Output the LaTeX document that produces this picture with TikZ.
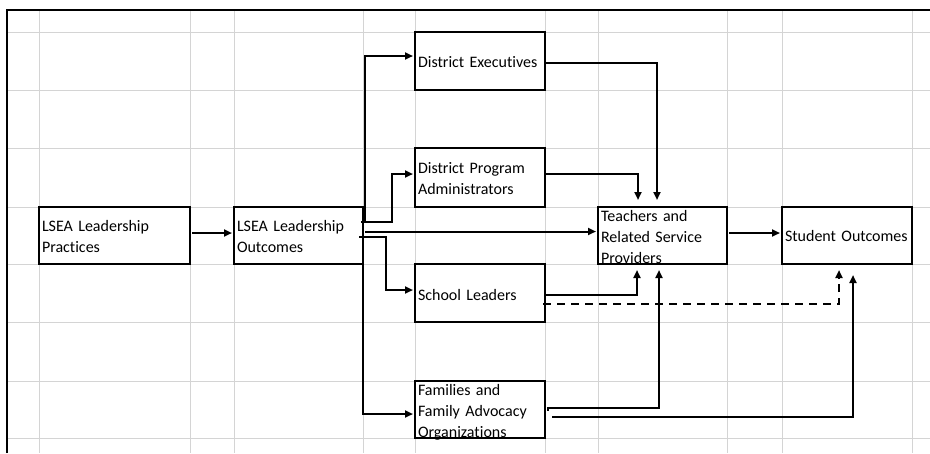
\documentclass[tikz,border=0pt]{standalone}
\usepackage{fontspec}
\setmainfont{Carlito}[Ligatures={NoCommon}]
\usetikzlibrary{arrows.meta,calc}
\definecolor{cellline}{RGB}{212,212,212}
\begin{document}
\begin{tikzpicture}[x=1pt,y=-1pt,
  gridline/.style={draw=cellline, line width=1pt},
  frameline/.style={draw=black, line width=1.2pt},
  % #1 width, #2 height, #3 text width, #4 first baseline below top, #5 rest
  box/.style n args={5}{draw=black, line width=1.4pt, fill=white, rectangle,
    outer sep=0pt, inner xsep=3pt, inner ysep=0pt, anchor=north west,
    minimum width=#1, minimum height=#2, text width=#3, align=left,
    text height=#4, text depth=#5,
    font=\fontsize{16pt}{21pt}\selectfont},
  arr/.style={line width=2pt, line join=miter, -{Triangle[length=8pt,width=7pt]}},
  dasharr/.style={arr, dash pattern=on 8pt off 6pt}]

% canvas and spreadsheet cells
\fill[white] (0,0) rectangle (930,453);
\useasboundingbox (0,0) rectangle (930,453);
\foreach \x in {39,190,234,363,415,545,598,727,782,912}
  \draw[gridline] (\x,10) -- (\x,453);
\foreach \y in {32,90,148,207,264,322,381,438}
  \draw[gridline] (7,\y) -- (930,\y);
\draw[frameline] (7,453) -- (7,10) -- (930,10);

% boxes
\node[box={151pt}{57pt}{145pt}{24pt}{33pt}] (lp)  at (39,207)  {LSEA Leadership\\Practices};
\node[box={129pt}{57pt}{123pt}{24pt}{33pt}] (lo)  at (234,207) {LSEA Leadership\\Outcomes};
\node[box={130pt}{58pt}{124pt}{35pt}{23pt}] (dex) at (415,32)  {District Executives};
\node[box={130pt}{59pt}{124pt}{25pt}{34pt}] (dpa) at (415,148) {District Program\\Administrators};
\node[box={129pt}{57pt}{123pt}{14pt}{43pt}] (trs) at (598,207) {Teachers and\\Related Service\\Providers};
\node[box={130pt}{57pt}{124pt}{34pt}{23pt}] (so)  at (782,207) {Student Outcomes};
\node[box={130pt}{58pt}{124pt}{36pt}{22pt}] (sl)  at (415,264) {School Leaders};
\node[box={130pt}{57pt}{124pt}{14pt}{43pt}] (fam) at (415,381) {Families and\\Family Advocacy\\Organizations};

% connectors
\draw[arr] ([xshift=2pt,yshift=2.5pt]lp.east) -- ([xshift=-2pt,yshift=2.5pt]lo.west);
\draw[arr] ([xshift=2pt,yshift=13.5pt]lo.east) |- ([xshift=-2pt,yshift=5pt]dex.west);
\draw[arr] ([xshift=-2pt,yshift=13.5pt]lo.east) -- ++(31,0) |- ([xshift=-2pt,yshift=3.5pt]dpa.west);
\draw[arr] ([xshift=2pt,yshift=4pt]lo.east) -- ([xshift=-2pt,yshift=4pt]trs.west);
\draw[arr] ([xshift=-4pt,yshift=-1.5pt]lo.east) -- ++(27,0) |- ([xshift=-2pt,yshift=3pt]sl.west);
\draw[arr] ([yshift=-1pt]lo.east) |- ([xshift=-2pt,yshift=-4.5pt]fam.west);

\draw[arr] ([yshift=-2pt]dex.east) -| ([xshift=-5.5pt,yshift=7pt]trs.north);
\draw[arr] ([yshift=3.5pt]dpa.east) -| ([xshift=-24.5pt,yshift=7pt]trs.north);
\draw[arr] ([yshift=-2pt]sl.east) -| ([xshift=-25.5pt,yshift=-6pt]trs.south);
\draw[arr] ([xshift=3pt,yshift=-1pt]fam.east) -- ++(0,-3) -| ([xshift=-3.5pt,yshift=-6pt]trs.south);

\draw[arr] ([xshift=7pt,yshift=-7.5pt]fam.east) -| ([xshift=6pt,yshift=-11pt]so.south);
\draw[dasharr] ([xshift=-2pt,yshift=-11pt]sl.east) -| ([xshift=-8pt,yshift=-6pt]so.south);
\draw[arr] ([xshift=2pt,yshift=2.5pt]trs.east) -- ([xshift=-2pt,yshift=2.5pt]so.west);
\end{tikzpicture}
\end{document}
